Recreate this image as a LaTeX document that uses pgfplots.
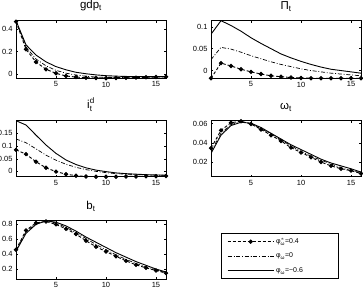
\documentclass[border=0pt]{standalone}
\usepackage{fontspec}
\setmainfont{Liberation Sans}
\usepackage{amsmath}
\usepackage{pgfplots}
\pgfplotsset{compat=1.18}
\usepackage{pgfplotstable}

% impulse responses: A = phi 0.4 (marked), B = phi 0, C = phi -0.6
\pgfplotstableread{
x A B C
1 0.465 0.470 0.473
2 0.221 0.240 0.260
3 0.109 0.135 0.170
4 0.044 0.075 0.110
5 0.009 0.035 0.068
6 -0.015 0.010 0.040
7 -0.024 -0.006 0.018
8 -0.030 -0.017 0.005
9 -0.033 -0.024 -0.005
10 -0.034 -0.027 -0.012
11 -0.033 -0.028 -0.016
12 -0.031 -0.027 -0.019
13 -0.029 -0.026 -0.020
14 -0.026 -0.024 -0.020
15 -0.024 -0.022 -0.020
16 -0.022 -0.021 -0.020
}\gdptab

\pgfplotstableread{
x A B C
1 -0.0177 0.025 0.083
2 0.017 0.053 0.114
3 0.0105 0.049 0.103
4 0.003 0.042 0.090
5 -0.003 0.034 0.075
6 -0.008 0.027 0.062
7 -0.012 0.020 0.050
8 -0.014 0.014 0.038
9 -0.016 0.009 0.029
10 -0.017 0.004 0.021
11 -0.0175 0.000 0.014
12 -0.0177 -0.003 0.008
13 -0.0177 -0.006 0.003
14 -0.0177 -0.008 0.000
15 -0.0177 -0.010 -0.003
16 -0.0177 -0.012 -0.006
}\pitab

\pgfplotstableread{
x A B C
1 0.085 0.128 0.200
2 0.068 0.113 0.183
3 0.038 0.089 0.143
4 0.014 0.064 0.104
5 -0.001 0.044 0.071
6 -0.011 0.028 0.045
7 -0.017 0.016 0.027
8 -0.020 0.007 0.014
9 -0.021 0.000 0.005
10 -0.021 -0.005 -0.001
11 -0.021 -0.009 -0.006
12 -0.020 -0.011 -0.009
13 -0.020 -0.013 -0.011
14 -0.019 -0.014 -0.013
15 -0.019 -0.015 -0.014
16 -0.018 -0.016 -0.015
}\idtab

\pgfplotstableread{
x A B C
1 0.0345 0.031 0.029
2 0.053 0.050 0.048
3 0.061 0.059 0.058
4 0.0625 0.062 0.0615
5 0.0597 0.060 0.0605
6 0.054 0.055 0.056
7 0.048 0.049 0.050
8 0.042 0.043 0.044
9 0.035 0.037 0.038
10 0.030 0.031 0.033
11 0.025 0.026 0.028
12 0.020 0.022 0.023
13 0.016 0.018 0.019
14 0.013 0.014 0.016
15 0.011 0.011 0.013
16 0.008 0.009 0.0095
}\omtab

\pgfplotstableread{
x A B C
1 0.46 0.45 0.44
2 0.72 0.70 0.68
3 0.82 0.81 0.80
4 0.84 0.845 0.848
5 0.80 0.82 0.83
6 0.74 0.76 0.78
7 0.67 0.69 0.71
8 0.58 0.61 0.63
9 0.50 0.53 0.56
10 0.435 0.46 0.49
11 0.37 0.39 0.42
12 0.31 0.33 0.36
13 0.256 0.275 0.30
14 0.216 0.23 0.25
15 0.18 0.19 0.20
16 0.145 0.15 0.16
}\btab

\pgfplotsset{
  panel/.style={
    scale only axis, width=150bp,
    anchor=south west,
    xmin=1, xmax=16, xtick={5,10,15},
    scaled y ticks=false,
    tick align=inside, major tick length=2bp,
    every tick/.style={black, line width=0.4bp},
    axis line style={line width=0.5bp},
    tick label style={font=\fontsize{7.5}{8}\selectfont},
    /pgf/number format/assume math mode=true,
    yticklabel style={/pgf/number format/fixed},
    title style={font=\fontsize{11.5}{12}\selectfont, at={(0.5,1)}, anchor=south, yshift=0bp},
    legend image code/.code={%
      \draw[mark repeat=2, mark phase=2, ##1] plot coordinates {(0bp,0bp) (23bp,0bp) (46bp,0bp)};},
  },
  sA/.style={black, line width=0.9bp, dash pattern=on 3bp off 2bp, mark=*, mark size=1.7bp, mark options={solid}},
  sB/.style={black, line width=0.7bp, dash pattern=on 4bp off 1.8bp on 0.9bp off 1.8bp},
  sC/.style={black, line width=0.9bp},
}

\begin{document}
\begin{tikzpicture}
\useasboundingbox (0,0) rectangle (363bp,292bp);

% gdp
\begin{axis}[panel, at={(16bp,213.7bp)}, height=57.6bp,
  ymin=-0.035, ymax=0.473, ytick={0,0.2,0.4},
  title={gdp$_{\text{t}}$}]
\addplot[sC] table[x=x, y=C] {\gdptab};
\addplot[sB] table[x=x, y=B] {\gdptab};
\addplot[sA] table[x=x, y=A] {\gdptab};
\end{axis}

% inflation
\begin{axis}[panel, at={(211bp,213.7bp)}, height=57.6bp,
  ymin=-0.0177, ymax=0.114, ytick={0,0.05,0.1},
  title={$\text{Π}_{\text{t}}$}]
\addplot[sC] table[x=x, y=C] {\pitab};
\addplot[sB] table[x=x, y=B] {\pitab};
\addplot[sA] table[x=x, y=A] {\pitab};
\end{axis}

% deposit rate
\begin{axis}[panel, at={(16bp,115.3bp)}, height=56bp,
  ymin=-0.021, ymax=0.2, ytick={0,0.05,0.1,0.15},
  title={$\text{i}^{\text{d}}_{\text{t}}$}]
\addplot[sC] table[x=x, y=C] {\idtab};
\addplot[sB] table[x=x, y=B] {\idtab};
\addplot[sA] table[x=x, y=A] {\idtab};
\end{axis}

% omega
\begin{axis}[panel, at={(211bp,115.3bp)}, height=56bp,
  ymin=0.0047, ymax=0.0631, ytick={0.02,0.04,0.06},
  title={$\text{ω}_{\text{t}}$}]
\addplot[sC] table[x=x, y=C] {\omtab};
\addplot[sB] table[x=x, y=B] {\omtab};
\addplot[sA] table[x=x, y=A] {\omtab};
\end{axis}

% bonds, with the legend
\begin{axis}[panel, at={(16bp,13bp)}, height=58.3bp,
  ymin=0.066, ymax=0.85, ytick={0.2,0.4,0.6,0.8},
  title={b$_{\text{t}}$},
  legend style={at={(axis description cs:1.3667,0.789)}, anchor=north west,
    draw=black, line width=0.5bp, inner xsep=6bp, inner ysep=3bp, row sep=4bp,
    font=\fontsize{7}{8}\selectfont},
  legend cell align=left]
\addplot[sA] table[x=x, y=A] {\btab};
\addlegendentry{\makebox[54bp][l]{$\text{φ}^{*}_{\text{ω}}$=0.4}}
\addplot[sB] table[x=x, y=B] {\btab};
\addlegendentry{\makebox[54bp][l]{$\text{φ}_{\text{ω}}$=0}}
\addplot[sC] table[x=x, y=C] {\btab};
\addlegendentry{\makebox[54bp][l]{$\text{φ}_{\text{ω}}$=−0.6}}
\end{axis}
\end{tikzpicture}
\end{document}
